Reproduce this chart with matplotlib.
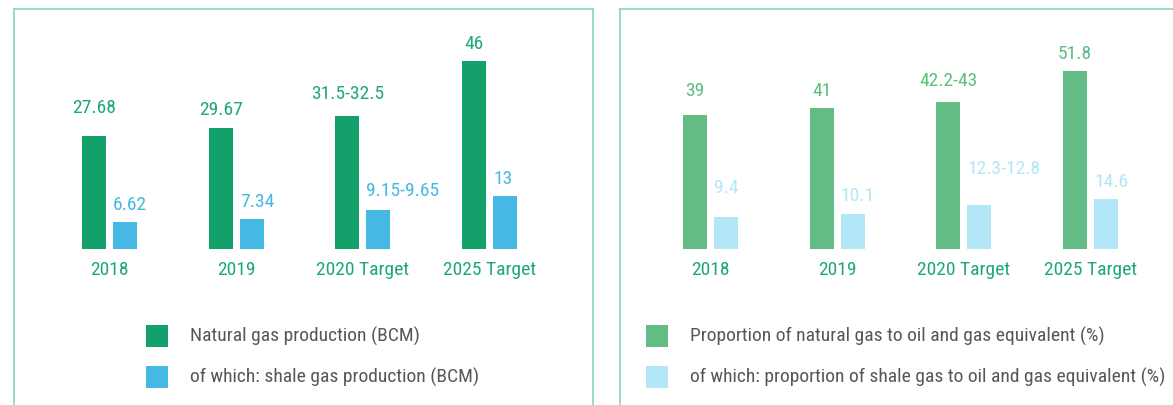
import matplotlib.pyplot as plt
from matplotlib.patches import Rectangle

plt.rcParams['font.family'] = ['Roboto Condensed', 'Archivo Narrow', 'DejaVu Sans']
plt.rcParams['font.stretch'] = 'condensed'

# data
categories = ['2018', '2019', '2020 Target', '2025 Target']

gas_bcm = [27.68, 29.67, 32.5, 46]
gas_bcm_labels = ['27.68', '29.67', '31.5-32.5', '46']
shale_bcm = [6.62, 7.34, 9.65, 13]
shale_bcm_labels = ['6.62', '7.34', '9.15-9.65', '13']

gas_pct = [39, 41, 43, 51.8]
gas_pct_labels = ['39', '41', '42.2-43', '51.8']
shale_pct = [9.4, 10.1, 12.8, 14.6]
shale_pct_labels = ['9.4', '10.1', '12.3-12.8', '14.6']

left_legend = ['Natural gas production (BCM)',
               'of which: shale gas production (BCM)']
right_legend = ['Proportion of natural gas to oil and gas equivalent (%)',
                'of which: proportion of shale gas to oil and gas equivalent (%)']

# gap in pixels between bar top and label baseline
gas_bcm_pad = [23, 13, 17, 12]
shale_bcm_pad = [12, 12, 14, 12]
gas_pct_pad = [19, 12, 16, 12]
shale_pct_pad = [24, 13, 31, 12]

W, H = 1173, 405
FRAME = '#8ad6b8'
LABEL_GREEN = '#1ea872'
LEGEND_GREY = '#575757'
FS = 14

fig = plt.figure(figsize=(W / 100, H / 100), dpi=100)


def make_panel(x_left, x_right, group0, px_unit_y):
    # axes placed in pixel coords, baseline at y=249 px
    ax = fig.add_axes([x_left / W, 0, (x_right - x_left) / W, (H - 9) / H])
    step = 126.7
    ax.set_xlim((x_left - group0) / step, (x_right - group0) / step)
    ax.set_ylim(-(H - 249) / px_unit_y, (249 - 9) / px_unit_y)
    for s in ['left', 'top', 'right']:
        ax.spines[s].set_color(FRAME)
        ax.spines[s].set_linewidth(1.2)
    ax.spines['bottom'].set_visible(False)
    ax.set_xticks([])
    ax.set_yticks([])
    return ax


def draw_bars(ax, vals1, labels1, pad1, c1, t1, vals2, labels2, pad2, c2, t2):
    x = range(len(categories))
    w, off = 0.189, 0.122
    ax.bar([i - off for i in x], vals1, w, color=c1)
    ax.bar([i + off for i in x], vals2, w, color=c2)
    for i in x:
        ax.annotate(labels1[i], (i - off, vals1[i]), xytext=(0, pad1[i]),
                    textcoords='offset pixels', ha='center', va='baseline',
                    fontsize=FS, color=t1)
        ax.annotate(labels2[i], (i + off - w / 2, vals2[i]), xytext=(0, pad2[i]),
                    textcoords='offset pixels', ha='left', va='baseline',
                    fontsize=FS, color=t2)
        ax.annotate(categories[i], (i, 0), xytext=(0, -21),
                    textcoords='offset pixels', ha='center', va='center',
                    fontsize=FS, color=LABEL_GREEN)


def draw_legend(x_box, x_text, labels, colors):
    for k, (lab, col) in enumerate(zip(labels, colors)):
        yc = 336 + 41 * k
        fig.add_artist(Rectangle((x_box / W, 1 - (yc + 11) / H), 22 / W, 22 / H,
                                 transform=fig.transFigure, color=col, lw=0))
        fig.text(x_text / W, 1 - yc / H, lab, ha='left', va='center',
                 fontsize=FS, color=LEGEND_GREY)


ax1 = make_panel(14, 593, 109.5, 4.09)
draw_bars(ax1, gas_bcm, gas_bcm_labels, gas_bcm_pad, '#14a06b', '#1ea872',
          shale_bcm, shale_bcm_labels, shale_bcm_pad, '#45b8e3', '#45b8e3')
draw_legend(146, 190, left_legend, ['#14a06b', '#45b8e3'])

ax2 = make_panel(620, 1185, 710.5, 3.43)
draw_bars(ax2, gas_pct, gas_pct_labels, gas_pct_pad, '#63bc84', '#5cbd80',
          shale_pct, shale_pct_labels, shale_pct_pad, '#b3e7f8', '#b3e7f8')
draw_legend(646, 690, right_legend, ['#63bc84', '#b3e7f8'])

fig.savefig('out.png', dpi=100)
